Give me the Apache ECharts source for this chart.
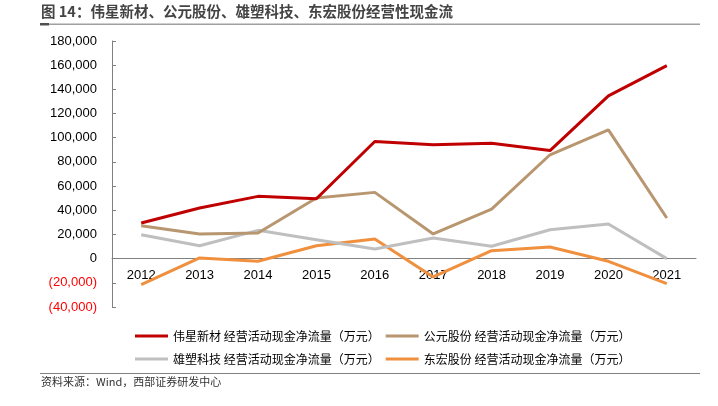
<!DOCTYPE html>
<html>
<head>
<meta charset="utf-8">
<script src="https://cdn.jsdelivr.net/npm/echarts@6/dist/echarts.min.js"></script>
<style>html,body{margin:0;padding:0;background:#fff;}#c{width:718px;height:406px;}</style>
</head>
<body>
<div id="c"></div>
<script>
const years = ['2012','2013','2014','2015','2016','2017','2018','2019','2020','2021'];
const weixing = [29500, 41900, 51500, 49500, 96900, 94100, 95500, 89400, 134600, 159600];
const gongyuan = [27200, 20400, 21200, 50100, 54800, 20400, 41000, 85900, 106500, 33600];
const xiongsu = [19800, 10700, 23400, 15700, 8000, 17100, 10200, 23900, 28600, 0];
const donghong = [-21500, 600, -2200, 10700, 16200, -15100, 6600, 9600, -2200, -20600];
const seriesNames = [
  '伟星新材 经营活动现金净流量（万元）',
  '公元股份 经营活动现金净流量（万元）',
  '雄塑科技 经营活动现金净流量（万元）',
  '东宏股份 经营活动现金净流量（万元）'
];
const colors = ['#C00000', '#B8966F', '#BFBFBF', '#F0903E'];
const yMin = -40000, yMax = 180000;
const gridTop = 41, gridBottom = 99, H = 406;

const chart = echarts.init(document.getElementById('c'));
const fmt = v => {
  const s = Math.abs(v).toLocaleString('en-US');
  return v < 0 ? '(' + s + ')' : s;
};
const mk = (i, data) => ({
  name: seriesNames[i], type: 'line', data: data, symbol: 'none',
  lineStyle: { color: colors[i], width: 3 }, itemStyle: { color: colors[i] },
  z: 10 - i
});
const plotH = H - gridTop - gridBottom;
const zeroOffset = -plotH * (0 - yMin) / (yMax - yMin);
chart.setOption({
  animation: false,
  textStyle: { fontFamily: 'Liberation Sans, Arial, Noto Sans CJK SC' },
  grid: { left: 112, right: 22, top: gridTop, bottom: gridBottom },
  legend: [
    { data: [seriesNames[0], seriesNames[1]], left: 130, top: 325, icon: 'rect', itemWidth: 33, itemHeight: 3, itemGap: 6,
      textStyle: { fontSize: 12, color: '#000', fontFamily: 'Noto Sans CJK SC' } },
    { data: [seriesNames[2], seriesNames[3]], left: 130, top: 348, icon: 'rect', itemWidth: 33, itemHeight: 3, itemGap: 6,
      textStyle: { fontSize: 12, color: '#000', fontFamily: 'Noto Sans CJK SC' } }
  ],
  xAxis: {
    type: 'category', data: years, boundaryGap: true, offset: zeroOffset,
    axisLine: { onZero: false, lineStyle: { color: '#808080', width: 1 } },
    axisTick: { inside: true, length: 4, lineStyle: { color: '#808080' } },
    axisLabel: { color: '#000', fontSize: 13, margin: 10 }
  },
  yAxis: {
    type: 'value', min: yMin, max: yMax, interval: 20000,
    axisLine: { show: true, lineStyle: { color: '#808080', width: 1 } },
    axisTick: { show: true, inside: true, length: 4, lineStyle: { color: '#808080' } },
    splitLine: { show: false },
    axisLabel: { fontSize: 13, margin: 15, formatter: fmt,
      color: v => (v < 0 ? '#FF0000' : '#000') }
  },
  series: [mk(0, weixing), mk(1, gongyuan), mk(2, xiongsu), mk(3, donghong)],
  graphic: [
    { type: 'text', left: 41, top: 4, style: { text: '图 14：伟星新材、公元股份、雄塑科技、东宏股份经营性现金流',
      font: 'bold 14.5px "Noto Sans CJK SC"', fill: '#444' } },
    { type: 'rect', shape: { x: 40, y: 23.5, width: 660, height: 1.5 }, style: { fill: '#A0A0A0' } },
    { type: 'rect', shape: { x: 40, y: 23, width: 9, height: 2.5 }, style: { fill: '#505050' } },
    { type: 'rect', shape: { x: 40, y: 373, width: 660, height: 1 }, style: { fill: '#808080' } },
    { type: 'text', left: 41, top: 376, style: { text: '资料来源：Wind，西部证券研发中心',
      font: '11px "Noto Sans CJK SC"', fill: '#333' } }
  ]
});
</script>
</body>
</html>
